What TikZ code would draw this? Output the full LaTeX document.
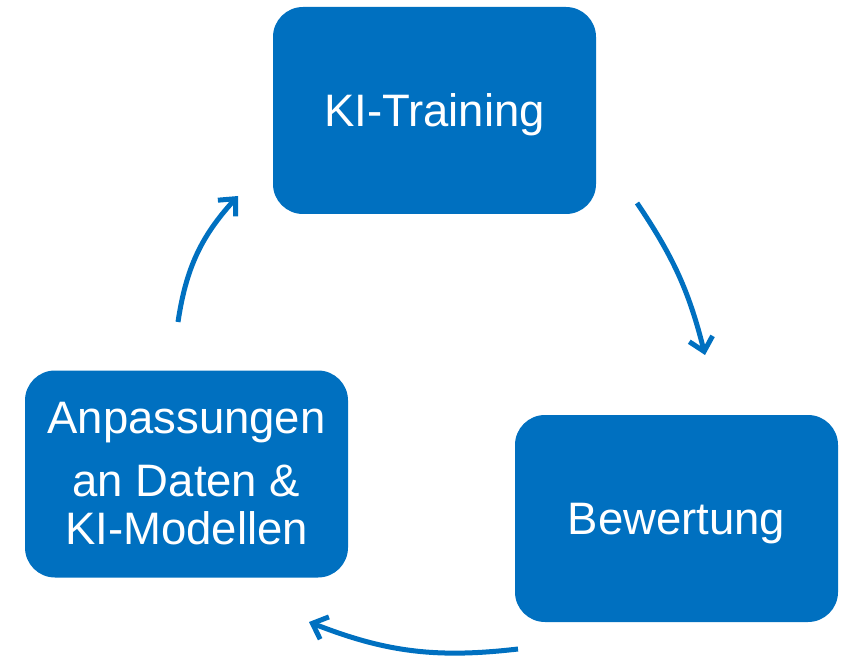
\documentclass[tikz,border=0pt]{standalone}
\usepackage{fontspec}
\setmainfont{Liberation Sans}
\usetikzlibrary{arrows.meta}
\definecolor{kiblue}{RGB}{0,112,192}

\begin{document}
\begin{tikzpicture}[x=1pt, y=-1pt,
  box/.style = {fill=kiblue, rounded corners=30pt, minimum width=323pt, minimum height=207pt,
    inner sep=0pt, text=white, align=center, font=\fontsize{45.5}{48}\selectfont},
  pfeil/.style = {draw=kiblue, line width=5pt, -{Straight Barb[length=13pt, width=24pt]}}]
\useasboundingbox (0,0) rectangle (848,660);
\node[box, text depth=0pt] (training) at (434.5,110.5) {KI-Training};
\node[box, text depth=0pt] (bewertung) at (676.5,518.5) {Bewertung};
\node[box] (anpassung) at (186.5,474) {Anpassungen\\[15pt]an Daten \&\\KI-Modellen};
% Pfeile im Kreis
\coordinate (s1) at (178,322);
\coordinate (z1) at (238,196);
\coordinate (s2) at (637,203);
\coordinate (z2) at (705,355);
\coordinate (s3) at (518,649);
\coordinate (z3) at (309,622);
\draw[pfeil] (s1) to[bend left=17] (z1);
\draw[pfeil] (s2) to[bend left=10] (z2);
\draw[pfeil] (s3) to[bend left=14] (z3);
\end{tikzpicture}
\end{document}
